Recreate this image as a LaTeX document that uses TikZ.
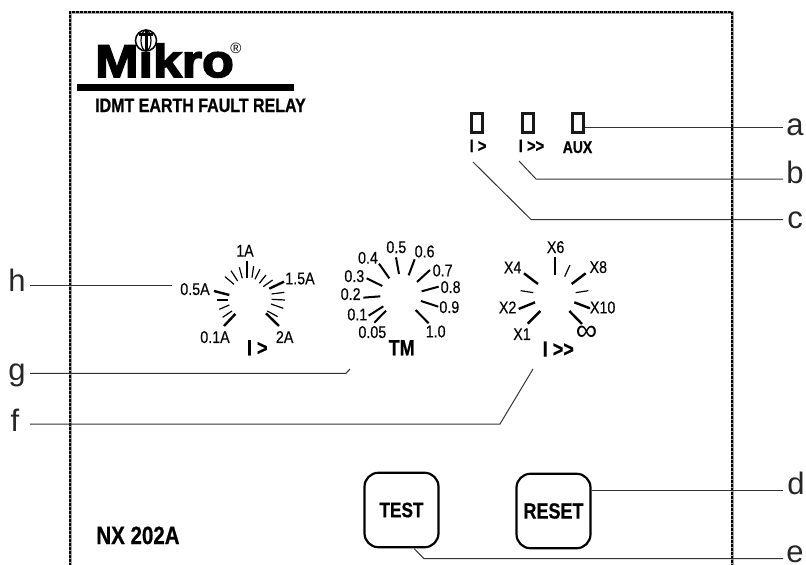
\documentclass[tikz,border=0pt]{standalone}
\usepackage{fontspec}
\setmainfont{Liberation Sans}
\newfontfamily\narrowfont[FakeStretch=0.84,FakeBold=0.25]{Liberation Sans}
\newfontfamily\boldnarrow[FakeStretch=0.82,FakeBold=0.7]{Liberation Sans Bold}
\newfontfamily\logofont[FakeStretch=1.13,FakeBold=3.5]{Liberation Sans Bold}
\newcommand{\fsz}[1]{\fontsize{#1}{#1}\selectfont}
\definecolor{leader}{HTML}{333333}
\tikzset{
  x=1pt,y=-1pt,
  leaderline/.style={draw=leader,line width=1pt,line join=miter},
  major/.style={line width=2.4pt,black},
  minorh/.style={line width=1.2pt,black},
  dl/.style={anchor=base,inner sep=0pt,font=\narrowfont\fsz{17},text=black},
  letter/.style={anchor=center,inner sep=0pt,font=\fsz{31},text=black!85},
  bl/.style={anchor=base,inner sep=0pt,font=\boldnarrow\fsz{18}},
  led/.style={draw=black!90,line width=3pt,fill=none,minimum width=11pt,minimum height=19pt,inner sep=0pt},
  btn/.style={draw=black,line width=2.2pt,rounded corners=14pt,minimum width=74pt,minimum height=74.5pt,inner sep=0pt,font=\boldnarrow\fsz{21}},
}
\begin{document}
\begin{tikzpicture}
\useasboundingbox (0,0) rectangle (806,565);
% panel
\draw[black!35,line width=3pt] (70,570) -- (70,12) -- (732,12) -- (732,570);
\draw[black,line width=2pt,dash pattern=on 3pt off 1pt] (70,570) -- (70,12) -- (732,12) -- (732,570);
% logo
\node[anchor=base west,inner sep=0pt,font=\logofont\fsz{46}] (logo) at (95,77) {Mikro};
\node[draw=black,line width=1.5pt,fill=white,circle,minimum size=21pt,inner sep=0pt] (emblem) at (146,40.5) {};
\draw[black,line width=1.2pt] (146,40.5) ellipse [x radius=5,y radius=10.5];
\fill[black] (144.5,30) rectangle (147.5,51);
\fill[black] (139,33) rectangle (153,35.5);
\node[anchor=center,inner sep=0pt,font=\fsz{15}] (reg) at (236,48) {®};
\fill[black] (77,84) rectangle (294,91);
\node[bl,font=\boldnarrow\fsz{19.5}] (title) at (200.5,112) {IDMT EARTH FAULT RELAY};
% LEDs
\node[led] (led1) at (477,123) {};
\node[led] (led2) at (527.5,123) {};
\node[led] (led3) at (578,123) {};
\node[bl,font=\boldnarrow\fsz{18}] (l1) at (478,152) {I >};
\node[bl,font=\boldnarrow\fsz{18}] (l2) at (531.5,152) {I >>};
\node[bl,font=\boldnarrow\fsz{17}] (l3) at (577.5,153) {AUX};
% dial h
\begin{scope}[shift={(160,230)},x=0.3333pt,y=-0.3333pt]
\foreach \a/\b/\c/\d in {261/92/261/143,162/183/208/195,192/288/226/252,372/155/328/176,357/288/318/250}
  \draw[major] (\a,\b) -- (\c,\d);
\foreach \a/\b/\c/\d in {238/112/247/145,213/122/233/153,195/140/222/163,172/210/205/210,178/238/208/225,188/262/216/243,281/108/276/143,300/118/285/148,318/135/298/160,338/150/310/170,373/187/335/192,375/210/335/208,370/235/333/222,353/260/322/243}
  \draw[minorh] (\a,\b) -- (\c,\d);
\foreach \x/\y/\t [count=\i] in {255/63/1A,105/178/0.5A,420/146/1.5A,165/322/0.1A,374/322/2A}
  \node[dl] (h\i) at (\x,\y+17) {\t};
\node[bl,font=\boldnarrow\fsz{22}] (hsym) at (292,376) {I >};
\end{scope}
% dial g
\begin{scope}[shift={(320,230)},x=0.3333pt,y=-0.3333pt]
\foreach \a/\b/\c/\d in {228/82/237/132,284/88/266/136,330/120/291/156,356/170/305/184,355/230/303/213,326/280/287/240,163/278/198/242,146/257/190/229,130/203/181/199,140/145/187/168,177/101/208/145}
  \draw[major,line width=2pt] (\a,\b) -- (\c,\d);
\foreach \x/\y/\t [count=\i] in {229/52/0.5,314/65/0.6,368/122/0.7,392/172/0.8,388/232/0.9,347/305/1.0,157/307/0.05,112/254/0.1,92/193/0.2,103/139/0.3,144/84/0.4}
  \node[dl] (g\i) at (\x,\y+17) {\t};
\node[bl,font=\boldnarrow\fsz{22}] (tm) at (245,376) {TM};
\end{scope}
% dial f
\begin{scope}[shift={(480,230)},x=0.3333pt,y=-0.3333pt]
\foreach \a/\b/\c/\d in {225/82/225/135,317/130/275/162,330/235/283/217,306/282/268/243,143/281/181/243,116/237/165/217,132/130/174/162}
  \draw[major] (\a,\b) -- (\c,\d);
\foreach \a/\b/\c/\d in {270/105/254/140,325/182/287/188,122/182/160/188}
  \draw[minorh] (\a,\b) -- (\c,\d);
\foreach \x/\y/\t [count=\i] in {227/52/X6,355/112/X8,368/233/X10,126/313/X1,83/233/X2,98/113/X4}
  \node[dl] (f\i) at (\x,\y+17) {\t};
\node[anchor=center,inner sep=0pt,font=\fsz{30}] (inf) at (320,309) {∞};
\node[bl,font=\boldnarrow\fsz{22}] (fsym) at (235,380) {I >>};
\end{scope}
% model and buttons
\node[bl,font=\boldnarrow\fsz{25}] (model) at (138,544) {NX 202A};
\node[btn] (test) at (401.5,510) {TEST};
\node[btn,font=\boldnarrow\fsz{22}] (reset) at (553.5,511) {RESET};
% letters
\node[letter] (a) at (795,127) {a};
\node[letter] (b) at (795,172) {b};
\node[letter] (c) at (795,220) {c};
\node[letter] (d) at (796,483) {d};
\node[letter] (e) at (795,554) {e};
\node[letter] (f) at (15,420) {f};
\node[letter] (g) at (17,375) {g};
\node[letter] (h) at (17,280) {h};
% leaders
\coordinate (ae) at (783,127.5);
\coordinate (bs) at (519,161); \coordinate (bm) at (536,179); \coordinate (be) at (783,179);
\coordinate (cs) at (473,162); \coordinate (cm) at (531,219.5); \coordinate (ce) at (783,219.5);
\coordinate (de) at (783,490);
\coordinate (em) at (424,558.7); \coordinate (ee) at (783,558.7);
\coordinate (fs) at (30,424); \coordinate (fm) at (500,424); \coordinate (fe) at (533,369);
\coordinate (gs) at (30,373.3); \coordinate (gm) at (346,373.3); \coordinate (ge) at (350,369);
\coordinate (hs) at (30,285); \coordinate (he) at (172,285);
\draw[leaderline] (led3.east |- ae) -- (ae);
\draw[leaderline] (bs) -- (bm) -- (be);
\draw[leaderline] (cs) -- (cm) -- (ce);
\draw[leaderline] (reset.east |- de) -- (de);
\draw[leaderline] (414,548.5) -- (em) -- (ee);
\draw[leaderline] (fs) -- (fm) -- (fe);
\draw[leaderline] (gs) -- (gm) -- (ge);
\draw[leaderline] (hs) -- (he);
\end{tikzpicture}
\end{document}
